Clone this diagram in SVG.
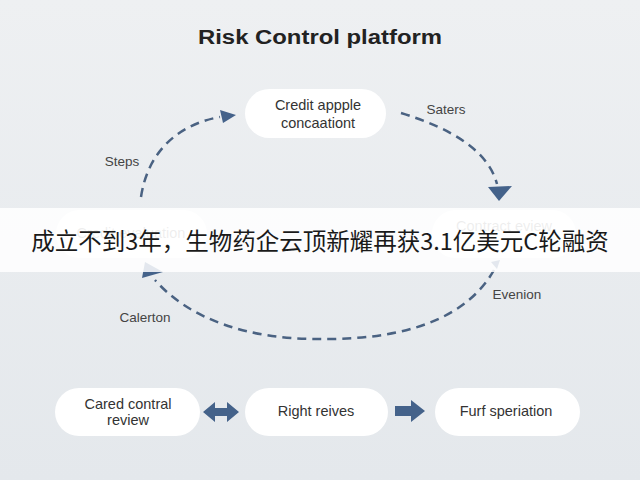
<svg xmlns="http://www.w3.org/2000/svg" width="640" height="480" viewBox="0 0 640 480">
<defs>
<linearGradient id="bg" x1="0" y1="0" x2="0" y2="1">
<stop offset="0" stop-color="#eef0f2"/>
<stop offset="1" stop-color="#e4e8ec"/>
</linearGradient>
</defs>
<style>
.node{fill:#ffffff}
.t{font-family:"Liberation Sans",Arial,sans-serif;font-size:14.5px;fill:#333;text-anchor:middle}
.lbl{font-family:"Liberation Sans",Arial,sans-serif;font-size:13.5px;fill:#444;text-anchor:middle}
.dash{fill:none;stroke:#4a6282;stroke-width:2.5;stroke-dasharray:9 6}
.blk{fill:#44628a}
</style>
<rect width="640" height="480" fill="url(#bg)"/>
<text x="320" y="44" font-family="Liberation Sans,Arial,sans-serif" font-size="20" font-weight="bold" fill="#222" text-anchor="middle" textLength="244" lengthAdjust="spacingAndGlyphs">Risk Control platform</text>

<g id="connectors">
<path class="dash" d="M141,197 C148,150 180,124 220,117"/>
<polygon class="blk" points="220,110 236,115 223,123"/>
<path class="dash" d="M401,113 C450,128 488,150 497,184"/>
<polygon class="blk" points="488,187 512,186 499,201"/>
<path class="dash" d="M494,270 C460,330 380,340 316,339 C250,339 190,320 155,280"/>
<polygon class="blk" points="145,262 163,272 142,278"/>
<polygon class="blk" points="491,262 500,260 497,269"/>
<text class="lbl" x="122" y="166">Steps</text>
<text class="lbl" x="446" y="114">Saters</text>
<text class="lbl" x="145" y="322">Calerton</text>
<text class="lbl" x="517" y="299">Evenion</text>
<path class="blk" d="M203,412 L215,402 L215,408 L227,408 L227,402 L239,412 L227,422 L227,416 L215,416 L215,422 z"/>
<path class="blk" d="M395,406 L411,406 L411,400 L425,411 L411,422 L411,416 L395,416 z"/>
</g>

<g id="n-top">
<rect class="node" x="245" y="89" width="141" height="49" rx="24.5"/>
<text class="t" x="318" y="110">Credit appple</text>
<text class="t" x="318" y="128">concaationt</text>
</g>
<g id="n-left">
<rect class="node" x="56" y="210" width="151" height="48" rx="24"/>
<text class="t" x="131" y="238" fill-opacity="0.6">Credit evaluation</text>
</g>
<g id="n-right">
<rect class="node" x="432" y="210" width="144" height="48" rx="24"/>
<text class="t" x="504" y="231" fill-opacity="0.6">Contract eview</text>
</g>
<g id="n-b1">
<rect class="node" x="55" y="388" width="145" height="48" rx="24"/>
<text class="t" x="128" y="409">Cared contral</text>
<text class="t" x="128" y="425">review</text>
</g>
<g id="n-b2">
<rect class="node" x="245" y="388" width="143" height="48" rx="24"/>
<text class="t" x="316" y="416">Right reives</text>
</g>
<g id="n-b3">
<rect class="node" x="435" y="388" width="145" height="48" rx="24"/>
<text class="t" x="506" y="416">Furf speriation</text>
</g>

<g id="banner">
<rect x="0" y="208" width="640" height="64" fill="#ffffff" fill-opacity="0.85"/>
<text x="320" y="250" font-family="Noto Sans CJK SC,Noto Sans,sans-serif" font-size="23.5" fill="#1a1a1a" text-anchor="middle">成立不到3年，生物药企云顶新耀再获3.1亿美元C轮融资</text>
</g>
</svg>
